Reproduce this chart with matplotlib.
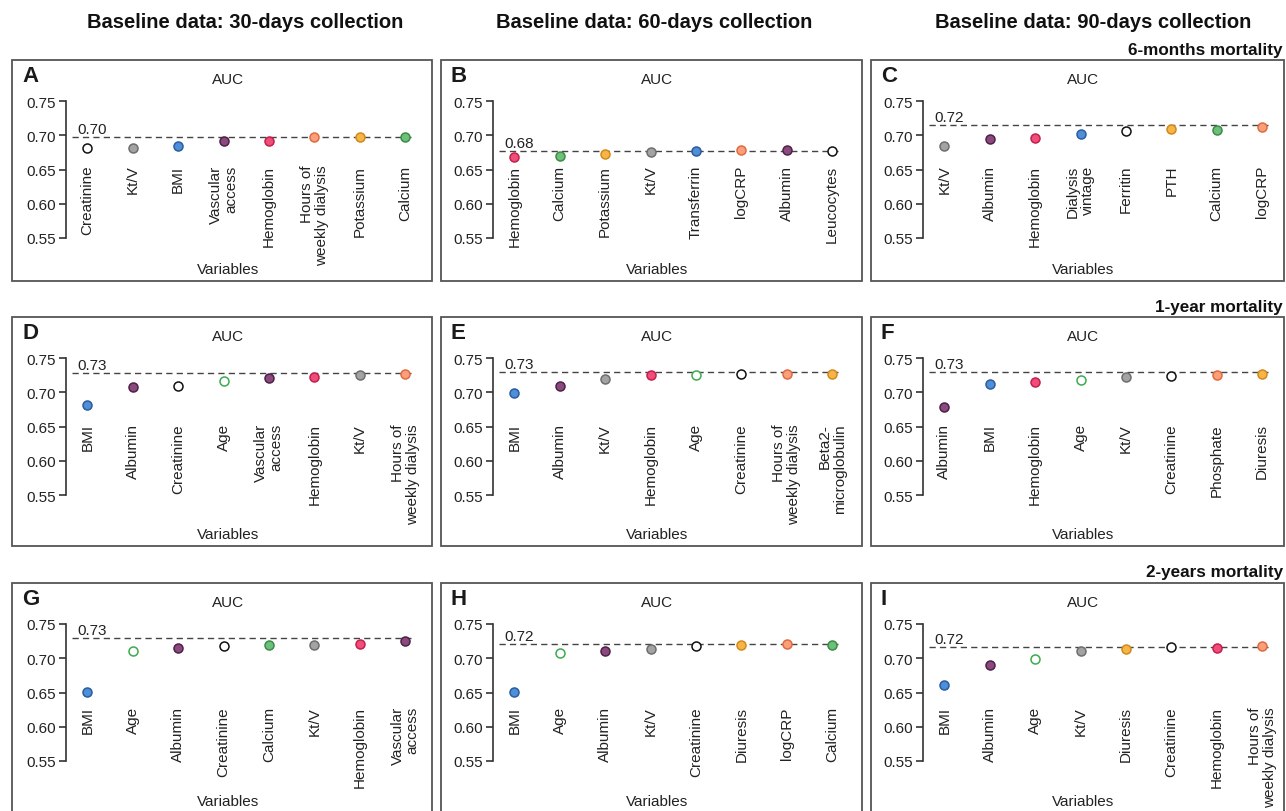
import matplotlib
matplotlib.use("Agg")
import matplotlib.pyplot as plt
from matplotlib.patches import Rectangle

plt.rcParams['font.family'] = ['Liberation Sans', 'DejaVu Sans']

W, H = 1286, 812

# ---- data ----
col_titles = ["Baseline data: 30-days collection",
              "Baseline data: 60-days collection",
              "Baseline data: 90-days collection"]
row_titles = ["6-months mortality", "1-year mortality", "2-years mortality"]
letters = ["A", "B", "C", "D", "E", "F", "G", "H", "I"]

vars_a = ["Creatinine", "Kt/V", "BMI", "Vascular\naccess", "Hemoglobin",
          "Hours of\nweekly dialysis", "Potassium", "Calcium"]
auc_a = [0.681, 0.681, 0.685, 0.692, 0.692, 0.697, 0.698, 0.698]
ref_a = 0.698

vars_b = ["Hemoglobin", "Calcium", "Potassium", "Kt/V", "Transferrin",
          "logCRP", "Albumin", "Leucocytes"]
auc_b = [0.668, 0.670, 0.6725, 0.675, 0.6775, 0.679, 0.678, 0.677]
ref_b = 0.6765

vars_c = ["Kt/V", "Albumin", "Hemoglobin", "Dialysis\nvintage", "Ferritin",
          "PTH", "Calcium", "logCRP"]
auc_c = [0.6845, 0.694, 0.696, 0.702, 0.706, 0.709, 0.707, 0.712]
ref_c = 0.7155

vars_d = ["BMI", "Albumin", "Creatinine", "Age", "Vascular\naccess",
          "Hemoglobin", "Kt/V", "Hours of\nweekly dialysis"]
auc_d = [0.682, 0.7073, 0.7098, 0.717, 0.7205, 0.7224, 0.7249, 0.7268]
ref_d = 0.7278

vars_e = ["BMI", "Albumin", "Kt/V", "Hemoglobin", "Age", "Creatinine",
          "Hours of\nweekly dialysis", "Beta2-\nmicroglobulin"]
auc_e = [0.6985, 0.709, 0.720, 0.7245, 0.7245, 0.727, 0.727, 0.727]
ref_e = 0.730

vars_f = ["Albumin", "BMI", "Hemoglobin", "Age", "Kt/V", "Creatinine",
          "Phosphate", "Diuresis"]
auc_f = [0.679, 0.7124, 0.7149, 0.7173, 0.7223, 0.7238, 0.7248, 0.7272]
ref_f = 0.7292

vars_g = ["BMI", "Age", "Albumin", "Creatinine", "Calcium", "Kt/V",
          "Hemoglobin", "Vascular\naccess"]
auc_g = [0.6505, 0.7113, 0.7147, 0.7182, 0.7196, 0.720, 0.7206, 0.725]
ref_g = 0.729

vars_h = ["BMI", "Age", "Albumin", "Kt/V", "Creatinine", "Diuresis",
          "logCRP", "Calcium"]
auc_h = [0.6505, 0.7074, 0.7108, 0.7142, 0.7181, 0.7191, 0.7201, 0.7196]
ref_h = 0.7206

vars_i = ["BMI", "Albumin", "Age", "Kt/V", "Diuresis", "Creatinine",
          "Hemoglobin", "Hours of\nweekly dialysis"]
auc_i = [0.6603, 0.6902, 0.6985, 0.7108, 0.7142, 0.7167, 0.7147, 0.7176]
ref_i = 0.7162

panels = [(vars_a, auc_a, ref_a), (vars_b, auc_b, ref_b), (vars_c, auc_c, ref_c),
          (vars_d, auc_d, ref_d), (vars_e, auc_e, ref_e), (vars_f, auc_f, ref_f),
          (vars_g, auc_g, ref_g), (vars_h, auc_h, ref_h), (vars_i, auc_i, ref_i)]

# marker colours per variable: (face, edge)
GRAY = ("#a3a3a3", "#6e6e6e")
BLUE = ("#4d8fd8", "#2b5c9e")
PURPLE = ("#8a4a7e", "#4f2048")
PINK = ("#f04d78", "#c0204e")
SALMON = ("#f9a07a", "#e06a40")
ORANGE = ("#f7b448", "#d08a1a")
GREEN = ("#6cc07a", "#3c8c48")
OPEN_BLACK = ("white", "#111111")
OPEN_GREEN = ("white", "#3cab4e")
colors = {
    "Creatinine": OPEN_BLACK, "Leucocytes": OPEN_BLACK, "Ferritin": OPEN_BLACK,
    "Kt/V": GRAY, "BMI": BLUE, "Transferrin": BLUE, "Dialysis\nvintage": BLUE,
    "Vascular\naccess": PURPLE, "Albumin": PURPLE, "Hemoglobin": PINK,
    "Hours of\nweekly dialysis": SALMON, "logCRP": SALMON, "Phosphate": SALMON,
    "Potassium": ORANGE, "PTH": ORANGE, "Diuresis": ORANGE,
    "Beta2-\nmicroglobulin": ORANGE, "Calcium": GREEN, "Age": OPEN_GREEN,
}

# ---- layout (pixels) ----
col_box = [(12, 432), (441, 862), (871, 1284)]
col_spine = [66, 493, 923]
row_box = [(61, 282), (318, 547), (584, 840)]
row_label_top = [0.657, 0.655, 0.630]
row_variables_y = [270, 535, 802]
row_title_y = [50, 308, 572]
col_title_x = [245, 654, 1093]
SPACING = 45.4
FS = 11


def fx(x):
    return x / W


def fy(y):
    return 1 - y / H


fig = plt.figure(figsize=(W / 100, H / 100), dpi=100)

for c, t in enumerate(col_titles):
    fig.text(fx(col_title_x[c]), fy(22), t, ha="center", va="center",
             fontsize=14.5, fontweight="bold", color="#111")
for r, t in enumerate(row_titles):
    fig.text(fx(1283), fy(row_title_y[r]), t, ha="right", va="center",
             fontsize=12.3, fontweight="bold", color="#111")

for k, (names, vals, ref) in enumerate(panels):
    r, c = divmod(k, 3)
    bx0, bx1 = col_box[c]
    by0, by1 = row_box[r]
    fig.patches.append(Rectangle((fx(bx0), fy(by1)), (bx1 - bx0) / W, (by1 - by0) / H,
                                 transform=fig.transFigure, fill=False,
                                 edgecolor="#555555", linewidth=1.3))
    cx = (bx0 + bx1) / 2 + 6
    fig.text(fx(bx0 + 10), fy(by0 + 16), letters[k], ha="left", va="center",
             fontsize=16, fontweight="bold", color="#1a1a1a")
    fig.text(fx(cx), fy(by0 + 19), "AUC", ha="center", va="center",
             fontsize=FS, color="#222")
    fig.text(fx(cx), fy(row_variables_y[r]), "Variables", ha="center",
             va="center", fontsize=FS, color="#222")

    ax = fig.add_axes([fx(col_spine[c]), fy(by0 + 178), 8.0 * SPACING / W, 137 / H])
    ax.patch.set_alpha(0)
    ax.set_xlim(-0.47, -0.47 + 8.0)
    ax.set_ylim(0.55, 0.75)
    for s in ["top", "right", "bottom"]:
        ax.spines[s].set_visible(False)
    ax.spines["left"].set_color("#333333")
    ax.spines["left"].set_linewidth(1.2)
    ax.set_yticks([0.55, 0.60, 0.65, 0.70, 0.75])
    ax.set_yticklabels(["0.55", "0.60", "0.65", "0.70", "0.75"])
    ax.tick_params(axis="y", length=5, width=1.2, color="#333333",
                   labelsize=FS, labelcolor="#222", pad=2)
    ax.set_xticks([])

    xs = list(range(len(names)))
    ax.hlines(ref, -0.33, 7.12, colors="#444444", linewidth=1.0,
              linestyles=(0, (4.5, 3)), zorder=1)
    ax.text(-0.23, ref + 0.0015, f"{ref:.2f}", ha="left", va="bottom",
            fontsize=FS, color="#222")
    for x, name, v in zip(xs, names, vals):
        face, edge = colors[name]
        ax.scatter([x], [v], s=42, facecolor=face, edgecolor=edge,
                   linewidth=1.1, zorder=3, clip_on=False)
        ax.text(x, row_label_top[r], name, rotation=90, ha="center", va="top",
                multialignment="right", fontsize=FS, color="#222",
                linespacing=1.1)

fig.savefig("out.png", dpi=100)
